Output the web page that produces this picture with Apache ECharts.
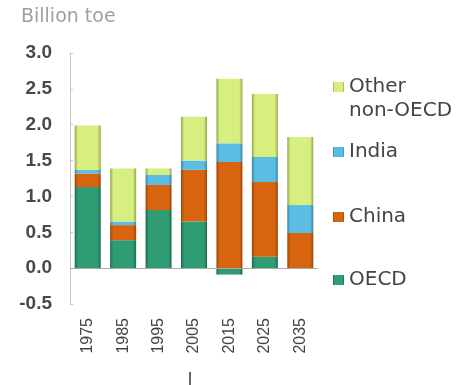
<!DOCTYPE html>
<html>
<head>
<meta charset="utf-8">
<script src="https://cdn.jsdelivr.net/npm/echarts@6/dist/echarts.min.js"></script>
<style>
  html, body { margin: 0; padding: 0; background: #fff; }
  #chart { width: 459px; height: 385px; }
</style>
</head>
<body>
<div id="chart"></div>
<script>
// data (billion toe)
const years = ["1975", "1985", "1995", "2005", "2015", "2025", "2035"];
const oecd = [1.13, 0.39, 0.81, 0.65, -0.09, 0.16, 0.0];
const china = [0.19, 0.21, 0.35, 0.72, 1.48, 1.04, 0.49];
const india = [0.05, 0.05, 0.14, 0.13, 0.26, 0.35, 0.39];
const other = [0.62, 0.74, 0.09, 0.61, 0.90, 0.88, 0.95];

const FONT = "DejaVu Sans";
const chart = echarts.init(document.getElementById("chart"));

// bars have darker edges, a bit like a cylinder
function shade(base, edge) {
  return new echarts.graphic.LinearGradient(0, 0, 1, 0, [
    { offset: 0, color: edge },
    { offset: 0.12, color: base },
    { offset: 0.88, color: base },
    { offset: 1, color: edge },
  ]);
}

function makeSeries(name, data, base, edge) {
  return {
    name: name,
    type: "bar",
    stack: "total",
    barWidth: 26,
    data: data,
    itemStyle: { color: shade(base, edge) },
  };
}

const series = [
  makeSeries("OECD", oecd, "#2f9c73", "#1b6a4c"),
  makeSeries("China", china, "#d9640f", "#9c4607"),
  makeSeries("India", india, "#5cbde2", "#3a88a6"),
  makeSeries("Other non-OECD", other, "#d7ee80", "#93a64c"),
];
// zero line across the plot
series[0].markLine = {
  silent: true,
  symbol: "none",
  label: { show: false },
  lineStyle: { color: "#aaa", type: "solid", width: 1 },
  data: [{ yAxis: 0 }],
};

const legendText = { color: "#444", fontSize: 20, lineHeight: 22, fontFamily: FONT };
function oneLegend(name, top, extra) {
  return Object.assign({
    data: [name],
    left: 333,
    top: top,
    padding: 0,
    orient: "vertical",
    icon: "rect",
    itemWidth: 11,
    itemHeight: 10,
    selectedMode: false,
    textStyle: legendText,
  }, extra || {});
}

const option = {
  backgroundColor: "#fff",
  animation: false,
  title: {
    text: "Billion toe",
    left: 21,
    top: 8,
    padding: 0,
    textStyle: { color: "#a0a0a0", fontSize: 19, fontWeight: "normal", fontFamily: FONT },
  },
  legend: [
    // blank first line keeps the icon next to "Other"
    oneLegend("Other non-OECD", 51, {
      formatter: () => " \nOther\nnon-OECD",
      textStyle: Object.assign({}, legendText, { lineHeight: 24 }),
    }),
    oneLegend("India", 141),
    oneLegend("China", 206),
    oneLegend("OECD", 269),
  ],
  grid: { left: 70, right: 141, top: 53, bottom: 81 },
  xAxis: {
    type: "category",
    data: years,
    axisLine: { show: false, onZero: false },
    axisTick: { show: false },
    axisLabel: {
      rotate: 90,
      margin: 14,
      color: "#444",
      fontSize: 16,
      fontFamily: "Liberation Sans",
    },
  },
  yAxis: {
    type: "value",
    min: -0.5,
    max: 3,
    interval: 0.5,
    splitLine: { show: false },
    axisLine: { show: true, lineStyle: { color: "#c8c8c8" } },
    axisTick: { show: true, inside: true, length: 3, lineStyle: { color: "#c8c8c8" } },
    axisLabel: {
      color: "#484848",
      fontSize: 19,
      fontWeight: "bold",
      margin: 18,
      fontFamily: "Liberation Sans",
      formatter: (v) => v.toFixed(1),
    },
  },
  graphic: [
    {
      type: "line",
      shape: { x1: 190, y1: 372, x2: 190, y2: 385 },
      style: { stroke: "#333", lineWidth: 1.5 },
    },
  ],
  series: series,
};

chart.setOption(option);
</script>
</body>
</html>
